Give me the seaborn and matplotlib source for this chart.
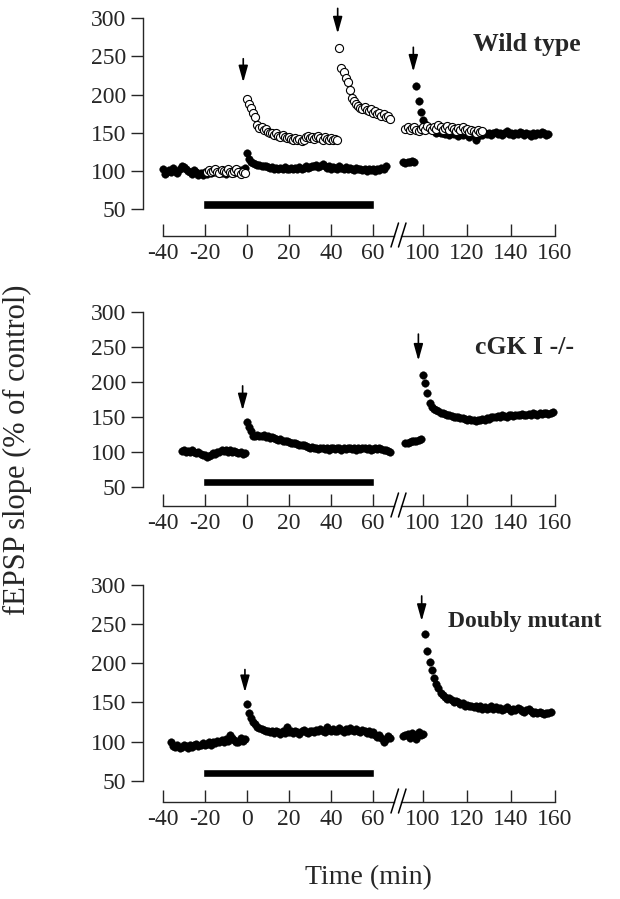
import numpy as np
import pandas as pd
import matplotlib
matplotlib.use("Agg")
import matplotlib.pyplot as plt
from matplotlib.lines import Line2D
import seaborn as sns

# --- data (fEPSP slope, % of control), one point per minute ---
wt_filled_base = [103, 96, 98, 101, 99, 104, 100, 97, 102, 107, 105, 103, 100, 98, 96, 101, 99, 95, 97, 94,
                  98, 96, 100, 97, 99, 101, 98, 100, 97, 99, 96, 101, 98, 100, 97, 103, 99, 101, 98, 104]
wt_filled_ltp1 = [124, 115, 112, 110, 109, 108, 108, 107, 106, 106, 105, 104, 105, 103, 104, 102, 104, 103, 105, 102,
                  103, 104, 102, 104, 103, 105, 103, 104, 106, 104, 105, 107, 106, 108, 105, 107, 109, 106, 104, 106,
                  103, 105, 104, 102, 106, 104, 103, 105, 102, 104, 103, 101, 104, 102, 103, 101, 102, 100, 103, 101,
                  102, 100, 103, 101, 104, 102, 107]
wt_filled_pre2 = [111, 110, 112, 111, 113, 112]
wt_filled_ltp2 = [211, 191, 177, 167, 161, 157, 155, 153, 152, 150, 151, 149, 150, 148, 150, 147, 149, 148, 150, 146,
                  149, 147, 148, 150, 145, 148, 147, 140, 146, 148, 147, 149, 148, 150, 147, 149, 151, 148, 150, 147,
                  149, 152, 148, 150, 147, 149, 148, 151, 149, 147, 150, 148, 146, 149, 147, 150, 148, 151, 149, 147, 148]
wt_open_base = [99, 101, 98, 100, 103, 99, 97, 101, 100, 98, 102, 99, 97, 100, 103, 98, 96, 99, 97]
wt_open_ltp1 = [194, 187, 183, 176, 170, 160, 156, 157, 153, 155, 151, 149, 150, 147, 149, 146, 145, 147, 144, 143,
                145, 142, 141, 143, 140, 142, 139, 141, 144, 146, 143, 145, 142, 144, 146, 143, 141, 144, 142, 140,
                143, 141, 142, 140]
wt_open_ltp2 = [261, 235, 229, 222, 217, 206, 196, 191, 188, 185, 183, 181, 184, 180, 178, 181, 176, 178, 174, 176,
                172, 174, 170, 172, 168]
wt_open_post = [155, 157, 154, 156, 158, 153, 152, 155, 157, 154, 159, 156, 153, 158, 155, 160, 157, 154, 156, 159,
                153, 157, 155, 152, 156, 154, 157, 153, 155, 151, 154, 152, 150, 153, 151, 152]

cgk_base = [101, 102, 100, 101, 99, 102, 100, 98, 99, 97, 96, 95, 93, 94, 96, 98, 97, 100, 99, 102,
            101, 103, 100, 102, 99, 101, 100, 98, 99, 97, 98]
cgk_ltp1 = [142, 136, 129, 123, 122, 124, 123, 122, 124, 121, 122, 120, 121, 119, 118, 117, 118, 116, 115, 116,
            114, 113, 112, 113, 111, 110, 109, 110, 108, 107, 106, 107, 105, 106, 104, 105, 106, 104, 105, 103,
            106, 105, 104, 106, 105, 103, 105, 104, 106, 105, 104, 106, 103, 105, 104, 105, 106, 104, 105, 103,
            104, 105, 104, 106, 104, 103, 102, 101, 100]
cgk_pre2 = [112, 113, 114, 115, 115, 116, 117, 118]
cgk_ltp2 = [210, 198, 184, 170, 164, 161, 160, 158, 156, 155, 154, 153, 152, 151, 150, 150, 149, 148, 148, 147,
            146, 147, 145, 146, 144, 146, 145, 147, 146, 148, 147, 149, 150, 149, 151, 150, 152, 151, 150, 152,
            153, 151, 152, 153, 152, 154, 153, 152, 154, 153, 155, 154, 153, 155, 154, 156, 155, 154, 156, 157]

dm_base = [100, 94, 93, 96, 92, 93, 95, 94, 92, 96, 93, 95, 97, 94, 96, 98, 95, 97, 99, 96,
           100, 98, 101, 99, 102, 100, 103, 101, 108, 104, 102, 100, 99, 104, 101, 103]
dm_ltp1 = [148, 136, 130, 125, 122, 119, 117, 116, 115, 114, 113, 112, 114, 111, 113, 112, 110, 113, 111, 119,
           112, 114, 111, 113, 112, 110, 113, 115, 112, 111, 114, 113, 112, 115, 113, 116, 114, 112, 118, 115,
           113, 116, 114, 113, 117, 115, 112, 116, 114, 117, 115, 113, 116, 114, 112, 115, 113, 111, 114, 110,
           112, 108, 106, 109, 104, 100, 103, 107, 105]
dm_pre2 = [107, 108, 110, 105, 111, 109, 103, 112, 108, 110]
dm_ltp2 = [237, 216, 201, 191, 181, 174, 168, 162, 160, 157, 155, 156, 153, 151, 152, 150, 148, 149, 146, 147,
           145, 146, 144, 146, 143, 145, 142, 144, 141, 143, 145, 142, 144, 141, 143, 140, 142, 144, 141, 139,
           142, 140, 143, 141, 139, 138, 140, 141, 139, 137, 138, 136, 138, 137, 135, 136, 137, 138]

# (first minute, values, kind)
panels = [
    dict(label="Wild type", size=18.5, segments=[(-40, wt_filled_base, "filled"), (0, wt_filled_ltp1, "filled"),
                                                 (91, wt_filled_pre2, "filled"), (97, wt_filled_ltp2, "filled"),
                                                 (-19, wt_open_base, "open"), (0, wt_open_ltp1, "open"),
                                                 (44, wt_open_ltp2, "open"), (92, wt_open_post, "open")],
         arrows=[(-1.7, 247, 216), (43.2, 313, 280), (95.6, 262, 230)], bar_y=56, bar_h=11.8,
         px=(18.3, 209.0, 236.0, 2.0), text_xy=(473, 45)),
    dict(label="cGK I -/-", size=18.5, segments=[(-31, cgk_base, "filled"), (0, cgk_ltp1, "filled"),
                                                 (92, cgk_pre2, "filled"), (100, cgk_ltp2, "filled")],
         arrows=[(-2.0, 194, 159), (97.9, 268, 230)], bar_y=56.7, bar_h=10.4,
         px=(311.7, 486.7, 506.0, 285.0), text_xy=(475, 348)),
    dict(label="Doubly mutant", size=17, segments=[(-36, dm_base, "filled"), (0, dm_ltp1, "filled"),
                                                   (91, dm_pre2, "filled"), (101, dm_ltp2, "filled")],
         arrows=[(-0.9, 192, 163), (99.4, 286, 254)], bar_y=59.4, bar_h=10.2,
         px=(585.0, 780.7, 802.0, 565.0), text_xy=(448, 622)),
]

left_ticks = [-40, -20, 0, 20, 40, 60]
right_ticks = [100, 120, 140, 160]
y_ticks = [50, 100, 150, 200, 250, 300]

sns.set_style("ticks")
plt.rcParams["font.family"] = ["Liberation Serif", "DejaVu Serif"]
plt.rcParams["axes.unicode_minus"] = False

W, H = 620, 899
fig = plt.figure(figsize=(W / 100, H / 100), dpi=100)


def frac_rect(x0, x1, ytop, ybot):
    return [x0 / W, 1 - ybot / H, (x1 - x0) / W, (ybot - ytop) / H]


for p in panels:
    y300, y50, yline, ytop_px = p["px"]
    scale = (y50 - y300) / 250.0
    ylo = 50 - (yline - y50) / scale
    yhi = 300 + (y300 - ytop_px) / scale

    axl = fig.add_axes(frac_rect(143, 395, ytop_px, yline))
    axr = fig.add_axes(frac_rect(399, 560, ytop_px, yline))
    axl.set_xlim(-49.37, 70.46)
    axr.set_xlim(89.09, 162.27)
    for ax in (axl, axr):
        ax.set_ylim(ylo, yhi)
        ax.patch.set_alpha(0)
        ax.spines["top"].set_visible(False)
        ax.spines["right"].set_visible(False)
        ax.spines["bottom"].set_linewidth(1.0)
        ax.tick_params(axis="x", direction="in", length=8.5, width=1.0, labelsize=17, pad=5)

    axl.spines["left"].set_bounds(50, 300)
    axl.spines["left"].set_linewidth(1.0)
    axl.spines["bottom"].set_bounds(-40, 70.2)
    axr.spines["bottom"].set_bounds(90.2, 160)
    axr.spines["left"].set_visible(False)
    axr.set_yticks([])
    axl.set_yticks(y_ticks)
    axl.tick_params(axis="y", direction="out", length=9, width=1.0, labelsize=17, pad=3)
    axl.set_xticks(left_ticks)
    axr.set_xticks(right_ticks)

    rows = []
    for start, vals, kind in p["segments"]:
        t = np.arange(start, start + len(vals))
        rows.append(pd.DataFrame({"t": t, "v": vals, "kind": kind}))
    df = pd.concat(rows, ignore_index=True)

    for ax, part in ((axl, df[df.t < 80]), (axr, df[df.t >= 80])):
        f = part[part.kind == "filled"]
        o = part[part.kind == "open"]
        sns.scatterplot(data=f, x="t", y="v", ax=ax, color="black", s=30, edgecolor="black",
                        linewidth=0.3, legend=False, zorder=3, clip_on=False)
        if len(o):
            sns.scatterplot(data=o, x="t", y="v", ax=ax, color="white", s=34, edgecolor="black",
                            linewidth=0.8, legend=False, zorder=4, clip_on=False)
        ax.set_xlabel("")
        ax.set_ylabel("")

    # drug application bar
    axl.barh(y=p["bar_y"], width=81.5, left=-21, height=p["bar_h"], color="black", zorder=2)

    # tetanus arrows
    for t, top, tip in p["arrows"]:
        ax = axl if t < 80 else axr
        ax.annotate("", xy=(t, tip), xytext=(t, top),
                    arrowprops=dict(arrowstyle="-|>,head_length=1.0,head_width=0.28",
                                    color="black", lw=1.2, shrinkA=0, shrinkB=0), annotation_clip=False)

    fig.text(p["text_xy"][0] / W, 1 - p["text_xy"][1] / H, p["label"], fontsize=p["size"],
             fontweight="bold", ha="left", va="center")

    # axis break marks //
    for dx in (0, 7.5):
        x0, x1 = 391 + dx, 398.5 + dx
        fig.add_artist(Line2D([x0 / W, x1 / W], [1 - (yline + 11) / H, 1 - (yline - 13) / H],
                              color="black", lw=1.1))

fig.text(17 / W, 1 - 450 / H, "fEPSP slope (% of control)", rotation=90, fontsize=22,
         ha="center", va="center")
fig.text(368 / W, 1 - 878 / H, "Time (min)", fontsize=20, ha="center", va="center")

fig.savefig("out.png", dpi=100, facecolor="white")
